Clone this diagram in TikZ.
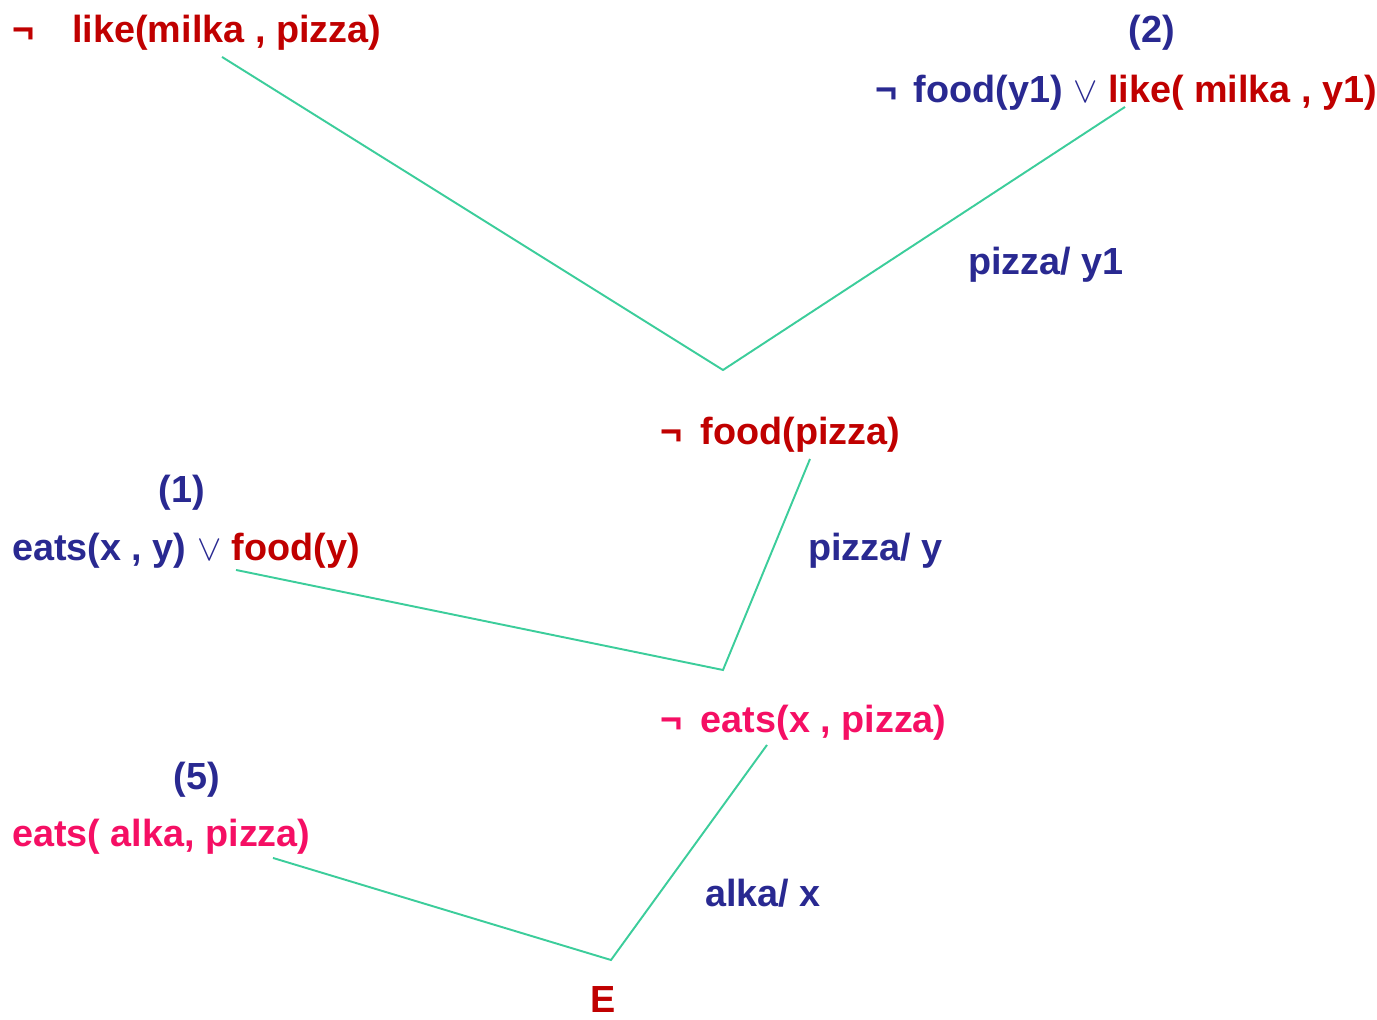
\documentclass[tikz,border=0pt]{standalone}
\usepackage{fontspec}
\setmainfont{Liberation Sans}
\usepackage{tikz}
\usetikzlibrary{calc}
\definecolor{clausered}{RGB}{192,0,0}
\definecolor{clauseblue}{RGB}{41,41,145}
\definecolor{clausepink}{RGB}{245,15,100}
\definecolor{linkgreen}{RGB}{60,205,155}

\begin{document}
\begin{tikzpicture}[
 x=0.02cm,y=-0.02cm,
 every node/.style={font=\fontsize{21.5}{26}\selectfont\bfseries,inner sep=0pt},
 clause/.style={anchor=west},
 tag/.style={anchor=center,text=clauseblue},
 subst/.style={anchor=west,text=clauseblue},
 link/.style={linkgreen,line width=1.1pt}
]
\useasboundingbox (0,0) rectangle (1377,1020);
% clauses
\node[clause,text=clausered] (c0) at (12,33) {¬\hspace{0.76cm}like(milka , pizza)};
\node[tag] (t2) at (1152,33) {(2)};
\node[clause] (c2) at (875,93) {\color{clauseblue}¬\hspace{0.12cm} food(y1) $\vee$ \color{clausered}like( milka , y1)};
\node[clause,text=clausered] (c3) at (660,435) {¬\hspace{0.16cm} food(pizza)};
\node[tag] (t1) at (182,493) {(1)};
\node[clause] (c1) at (12,551) {\color{clauseblue}eats(x , y) $\vee$ \color{clausered}food(y)};
\node[clause,text=clausepink] (c4) at (660,723) {¬\hspace{0.16cm} eats(x , pizza)};
\node[tag] (t5) at (197,780) {(5)};
\node[clause,text=clausepink] (c5) at (12,837) {eats( alka, pizza)};
\node[anchor=center,text=clausered] (e) at (603,1000) {E};
% substitutions
\node[subst] (s1) at (968,265) {pizza/ y1};
\node[subst] (s2) at (808,551) {pizza/ y};
\node[subst] (s3) at (705,893) {alka/ x};
% joins
\coordinate (j1) at (723,370);
\coordinate (j2) at (723,670);
\coordinate (j3) at (611,960);
\draw[link] ($(c0.south west)+(210,6)$) -- (j1) -- ($(c2.south west)+(250,-4)$);
\draw[link] ($(c1.south west)+(224,1)$) -- (j2) -- ($(c3.south west)+(150,6)$);
\draw[link] ($(c5.south west)+(261,3)$) -- (j3) -- ($(c4.south west)+(107,4)$);
\end{tikzpicture}
\end{document}
